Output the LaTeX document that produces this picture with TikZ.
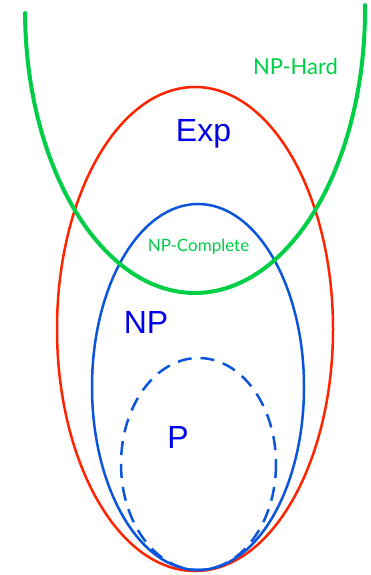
\documentclass[tikz,border=0pt]{standalone}
\usepackage{fontspec}
\setmainfont{Liberation Sans}
\newfontfamily\gillfont{Lato}
\definecolor{hardgreen}{RGB}{0,206,70}
\definecolor{expred}{RGB}{255,36,0}
\definecolor{npblue}{RGB}{10,85,220}
\definecolor{textblue}{RGB}{0,0,235}
\tikzset{
  class/.style  = {line width=2.5pt},
  big/.style    = {textblue, font=\fontsize{32}{32}\selectfont, anchor=base, inner sep=0pt},
  small/.style  = {hardgreen, font=\gillfont, anchor=base, inner sep=0pt}
}

\begin{document}
\begin{tikzpicture}[x=1pt,y=-1pt]
\useasboundingbox (0,0) rectangle (371,575);

% the classes
\draw[class, expred] (195,329) ellipse [x radius=138, y radius=242];
\draw[class, npblue] (198,387) ellipse [x radius=106, y radius=183];
\draw[class, npblue, dash pattern=on 14pt off 9pt] (198.5,464) ellipse [x radius=77.5, y radius=106];

% NP-hard, open at the top
\draw[line width=4pt, line cap=round, hardgreen] (195,10) +(179.4:170 and 283)
  arc [start angle=179.4, end angle=-1, x radius=170, y radius=283];

% labels
\node[small, font=\gillfont\fontsize{22}{22}\selectfont] (hard) at (295.5,75) {NP-Hard};
\node[big] (exp) at (203.5,142) {Exp};
\node[small, font=\gillfont\fontsize{17}{17}\selectfont] (complete) at (198.5,251) {NP-Complete};
\node[big] (np) at (146,333) {NP};
\node[big] (p) at (178,448) {P};

\end{tikzpicture}
\end{document}
